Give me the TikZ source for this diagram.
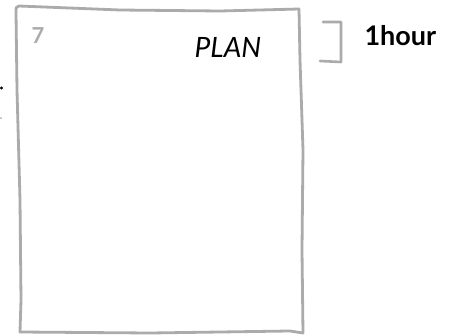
\documentclass[tikz,border=0pt]{standalone}
\usepackage{fontspec}
\setmainfont{Lato}
\definecolor{pencil}{HTML}{ABABAB}

\begin{document}
\begin{tikzpicture}[x=1pt,y=-1pt,line cap=round,line join=round]
\useasboundingbox (0,0) rectangle (451,335);
% the sheet
\draw[pencil,line width=2.8pt] (19,6) .. controls (16,6) and (16,8) .. (16,12)
  -- (17,90) -- (20,200) -- (21,300) -- (20,332) -- (150,333) -- (290,331)
  -- (303,333) -- (302,250) -- (303,150) -- (300,60) -- (299,9)
  -- (220,11) -- (120,10) -- (19,6);
\node[pencil,font=\bfseries\fontsize{22}{22}\selectfont,anchor=base] (num) at (38,43) {7};
\node[font=\itshape\fontsize{28}{28}\selectfont,anchor=base] (plan) at (228,57) {PLAN};
% time bracket
\draw[pencil,line width=2.6pt] (323,22) -- (341,22) -- (341,62) -- (320,61);
\node[font=\bfseries\fontsize{27}{27}\selectfont,anchor=base west] (hour) at (361,45) {1hour};
% cut-off marks at the left
\fill (1.5,88) circle (1.6pt);
\fill[pencil] (1,118) circle (1pt);
\end{tikzpicture}
\end{document}
